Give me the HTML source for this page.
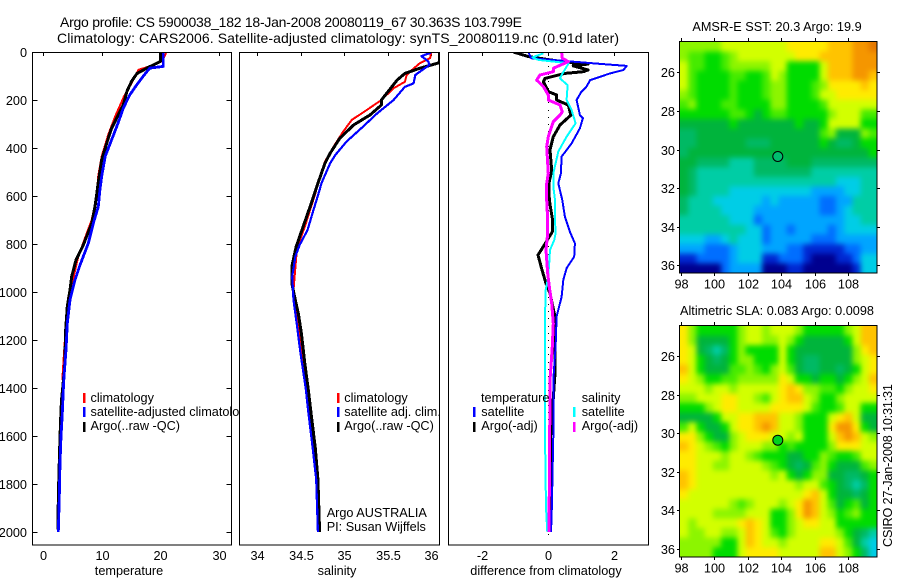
<!DOCTYPE html>
<html>
<head>
<meta charset="utf-8">
<title>Argo profile</title>
<style>
html,body{margin:0;padding:0;background:#fff;}
svg{display:block;}
text{font-family:"Liberation Sans",sans-serif;font-size:12.7px;fill:#000;}
.title{font-size:14px;}
</style>
</head>
<body>
<svg id="chart" xmlns="http://www.w3.org/2000/svg" width="900" height="580" viewBox="0 0 900 580">
<rect x="0" y="0" width="900" height="580" fill="#fff"/>
<defs>
<clipPath id="clip-t"><rect x="32" y="52" width="199.5" height="493"/></clipPath>
<clipPath id="clip-s"><rect x="239.5" y="52" width="200" height="493"/></clipPath>
<clipPath id="clip-d"><rect x="448.5" y="52" width="200" height="493"/></clipPath>
<clipPath id="clip-sst"><rect x="680" y="42" width="197" height="231"/></clipPath>
<clipPath id="clip-sla"><rect x="680" y="326" width="197" height="231"/></clipPath>
<filter id="map-soften" filterUnits="userSpaceOnUse" x="640" y="0" width="260" height="580" color-interpolation-filters="sRGB">
<feGaussianBlur stdDeviation="2.6"/>
</filter>
</defs>
<text class="title" x="60" y="27" textLength="462" lengthAdjust="spacing">Argo profile: CS 5900038_182 18-Jan-2008 20080119_67 30.363S 103.799E</text>
<text class="title" x="57" y="43" textLength="562" lengthAdjust="spacing">Climatology: CARS2006. Satellite-adjusted climatology: synTS_20080119.nc (0.91d later)</text>

<g id="panel-t"></g>
<g id="legend-t">
<rect x="83" y="393" width="2.5" height="10" fill="#f00"/>
<text x="90.5" y="402">climatology</text>
<rect x="83" y="407" width="2.5" height="10" fill="#00f"/>
<text x="90.5" y="416">satellite-adjusted climatology</text>
<rect x="83" y="422" width="2.5" height="10" fill="#000"/>
<text x="90.5" y="430">Argo(..raw -QC)</text>
</g>

<g id="panel-s"></g>
<g id="legend-s">
<rect x="337" y="393" width="2.5" height="10" fill="#f00"/>
<text x="344.3" y="402">climatology</text>
<rect x="337" y="407" width="2.5" height="10" fill="#00f"/>
<text x="344.3" y="416">satellite adj. clim.</text>
<rect x="337" y="422" width="2.5" height="10" fill="#000"/>
<text x="344.3" y="430">Argo(..raw -QC)</text>
<text x="326.7" y="517">Argo AUSTRALIA</text>
<text x="326.7" y="531">PI: Susan Wijffels</text>
</g>

<g id="panel-d"></g>
<g id="legend-d">
<text x="481" y="402">temperature</text>
<rect x="473" y="407" width="2.5" height="10" fill="#00f"/>
<text x="481.3" y="416">satellite</text>
<rect x="473" y="422" width="2.5" height="10" fill="#000"/>
<text x="481.3" y="430">Argo(-adj)</text>
<text x="581.7" y="402">salinity</text>
<rect x="573" y="407" width="2.5" height="10" fill="#0ff"/>
<text x="581.7" y="416">satellite</text>
<rect x="573" y="422" width="2.5" height="10" fill="#f0f"/>
<text x="581.7" y="430">Argo(-adj)</text>
</g>

<text x="129" y="575" text-anchor="middle">temperature</text>
<text x="337" y="575" text-anchor="middle">salinity</text>
<text x="546" y="575" text-anchor="middle">difference from climatology</text>

<text x="777" y="31" text-anchor="middle">AMSR-E SST: 20.3 Argo: 19.9</text>
<g id="map-sst"></g>
<text x="777" y="315" text-anchor="middle">Altimetric SLA: 0.083 Argo: 0.0098</text>
<g id="map-sla"></g>
<text transform="translate(892 547)rotate(-90)" textLength="163" lengthAdjust="spacing">CSIRO 27-Jan-2008 10:31:31</text>
</svg>

<script>
// ---------- profile data ----------
const depthTicks = [0,200,400,600,800,1000,1200,1400,1600,1800,2000];
const tempTicks = [0,10,20,30];
const salTicks = [34,34.5,35,35.5,36];
const salTickLabels = ['34','34.5','35','35.5','36'];
const diffTicks = [-2,0,2];

const tempClimDepth = [4,39,53,74,130,185,268,345,435,518,600,700,756,853,943,1019,1131,1255,1367];
const tempClimValue = [21,20.2,19.1,16.25,15.1,13.8,12.3,11.1,10,9.4,9.15,8.3,7.44,6,5.17,4.31,3.92,3.58,3.29];
const tempArgoDepth = [0,39,67,90,122,164,220,275,317,380,450,545,575,644,714,804,867,936,992,1061,1158,1311,1400,1450,1546,1650,1783,1937,1990];
const tempArgoValue = [20,20,17.7,16,15.1,14.3,13.7,12.55,11.7,10.85,10,9.4,9.25,8.86,8.3,6.87,5.62,4.89,4.6,4.14,3.87,3.7,3.35,3.15,2.98,2.85,2.7,2.55,2.55];
const tempSatDepth = [0,60,67,100,136,178,233,296,365,435,518,575,644,714,797,888,950,1033,1131,1242,1353,1408,1506,1604,1713,1854,2000];
const tempSatValue = [20.5,20.5,18.2,17.1,16,14.8,13.7,12.8,11.7,10.6,10,9.7,9.42,8.57,7.72,6.3,5.45,4.6,4.14,3.92,3.58,3.46,3.29,3.07,2.9,2.78,2.61];

const salClimDepth = [3,26,47,75,96,124,151,200,242,283,332,394,457,547,590,728,818,992,1040,1172,1270,1394,1500,1650,1780,2000];
const salClimValue = [36,35.99,35.87,35.78,35.72,35.7,35.57,35.43,35.26,35.09,34.99,34.88,34.78,34.7,34.67,34.55,34.46,34.42,34.44,34.49,34.53,34.57,34.6,34.65,34.69,34.71];
const salArgoDepth = [3,44,68,89,117,200,221,262,304,360,422,464,547,575,644,728,811,894,964,1033,1089,1172,1297,1408,1500,1650,1780,2000];
const salArgoValue = [36.1,36.1,35.87,35.7,35.61,35.43,35.43,35.3,35.11,34.95,34.84,34.78,34.7,34.675,34.61,34.53,34.45,34.4,34.4,34.44,34.475,34.51,34.55,34.59,34.62,34.67,34.7,34.72];
const salSatDepth = [3,17,40,54,96,131,145,200,256,311,373,429,464,547,575,658,742,804,853,936,1033,1131,1255,1400,1500,1650,1780,2000];
const salSatValue = [36,35.89,35.97,35.98,35.82,35.8,35.7,35.57,35.38,35.22,35.03,34.9,34.84,34.74,34.72,34.65,34.58,34.49,34.44,34.405,34.42,34.456,34.5,34.56,34.59,34.64,34.68,34.7];

const diffTempSatDepth = [0,26,36,50,58,75,89,117,144,165,200,263,276,318,381,436,506,547,617,686,749,797,853,901,950,1020,1103,1228,1367,1600,1921,2000];
const diffTempSatValue = [-0.59,-0.51,0.36,1.62,2.37,2.27,1.87,1.27,1.16,1.01,0.86,0.96,1.05,0.96,0.71,0.41,0.39,0.31,0.43,0.51,0.66,0.81,0.79,0.56,0.46,0.41,0.26,0.23,0.16,0.16,0.11,0.09];
const diffTempArgoDepth = [0,19,36,44,50,58,75,82,89,110,124,165,179,200,221,263,304,353,408,492,547,617,700,749,804,846,908,964,1006,1103,1339,1600,2000];
const diffTempArgoValue = [-1.04,-0.59,0.21,0.66,1.21,0.76,1.21,1.06,0.51,-0.09,-0.14,0.01,0.26,0.26,0.61,0.69,0.36,0.16,0.06,0.11,0.03,0.04,0.14,0.13,-0.11,-0.3,-0.18,-0.06,0.06,0.21,0.21,0.08,0.06];
const diffSalSatDepth = [6,22,33,42,47,96,110,138,200,242,297,353,415,506,561,617,700,756,783,825,894,950,992,1103,1367,1600,1900,2000];
const diffSalSatValue = [-0.14,-0.47,-0.29,0.3,0.62,0.41,0.36,0.59,0.56,0.71,0.83,0.56,0.31,0.16,0.16,0.21,0.21,0.23,0.19,0.06,0.03,-0.01,-0.07,-0.09,-0.09,-0.09,-0.06,-0.02];
const diffSalArgoDepth = [0,26,40,68,82,96,117,144,179,200,221,249,263,290,353,394,506,547,617,700,756,825,922,978,1047,1131,1228,1367,1600,2000];
const diffSalArgoValue = [0.41,0.43,0.61,0.16,0.16,-0.24,-0.34,-0.14,0.01,0.01,0.36,0.43,0.36,0.16,0.01,-0.04,0.01,-0.04,-0.04,-0.01,-0.01,-0.06,-0.01,0.04,0.11,0.16,0.13,0.06,0.05,0.03];
const zeroLineDepths = [60,90,120,150,180,210,240,270,300,330,360,390,420,450,480,510,540,570,600,630,660,690,720,750,780,810,840,870,900,930,960,990,1020,1050,1080,1110,1140,1170,1200,1230,1260,1290,1320,1350,1380,1410,1440,1470,1500,1530,1560,1590,1620,1650,1680,1710,1740,1770,1800,1830,1860,1890,1920,1950,1980,2010];

// ---------- map data (colour level in each grid cell, north to south) ----------
const mapLonTicks = [98,100,102,104,106,108];
const mapLatTicks = [26,28,30,32,34,36];
const argoLon = 103.799;
const argoLat = 30.363;
const sstCells = [
[10,10,10,10,10,11,11,11,11,11,11,11,11,12,12,12,12,12,13,13,13,14,14,15],
[10,9,9,8,8,9,10,11,11,11,11,11,11,11,12,12,12,13,13,13,13,14,14,14],
[11,9,9,8,8,9,10,10,10,10,10,11,11,8,8,8,8,11,13,13,13,14,14,14],
[11,9,8,8,8,8,9,9,8,8,9,11,10,8,8,8,8,11,13,13,13,14,14,13],
[11,9,8,8,8,8,9,8,8,8,9,10,10,8,8,8,9,10,12,12,12,12,13,12],
[10,9,8,8,8,8,9,8,8,8,9,10,10,8,8,8,9,11,11,12,12,12,12,12],
[9,10,8,8,8,9,9,8,8,8,8,10,10,8,8,8,8,9,11,11,11,11,11,11],
[8,8,8,8,8,8,9,9,8,7,8,9,9,8,8,8,8,8,10,11,11,11,9,9],
[7,7,7,7,7,7,8,7,7,7,7,7,7,7,8,7,7,8,11,11,11,11,8,8],
[6,6,7,7,7,7,7,7,7,7,7,7,7,7,7,7,7,9,10,7,7,7,10,9],
[6,6,7,7,7,7,7,7,6,6,6,7,7,7,7,7,7,8,7,6,6,7,8,8],
[6,7,7,7,7,7,7,7,7,7,7,7,7,7,7,7,7,7,7,7,7,7,7,8],
[7,7,6,6,6,6,5,5,5,6,6,6,6,7,7,7,6,6,6,6,6,6,6,6],
[7,6,5,5,5,5,5,5,5,6,6,6,6,6,6,6,5,5,5,5,5,5,5,5],
[7,6,5,5,5,5,5,5,5,5,5,5,5,5,5,5,5,5,5,4,4,4,5,5],
[7,6,5,5,5,5,4,4,4,4,4,4,4,4,4,4,3,3,3,3,4,4,5,5],
[6,5,5,5,4,4,4,4,4,4,3,4,3,3,3,3,3,2,2,3,3,5,5,5],
[6,5,5,5,5,4,4,4,4,3,3,3,3,3,3,3,3,2,2,3,4,5,5,5],
[5,5,5,5,5,5,4,4,4,2,3,3,3,3,3,3,3,3,3,3,4,4,5,5],
[5,5,5,5,5,5,5,5,4,4,2,3,3,2,3,3,3,3,2,3,4,4,4,4],
[4,4,4,3,3,4,5,4,4,4,2,3,3,3,3,3,2,2,2,3,3,3,3,3],
[3,3,3,2,2,2,3,4,4,4,3,3,3,2,2,1,1,1,1,1,2,2,3,3],
[1,1,2,2,2,2,3,4,4,4,1,1,2,2,2,1,0,0,0,1,1,2,4,4],
[0,0,0,0,0,2,3,3,3,3,0,0,0,1,1,0,0,0,0,0,0,1,4,4]
];
const slaCells = [
[12,10,8,8,8,8,8,10,11,11,10,11,11,11,10,8,8,8,8,8,10,11,13,13],
[12,10,7,7,7,7,8,10,11,11,10,10,11,10,8,7,7,7,7,7,8,11,13,13],
[12,11,7,6,5,6,8,10,8,8,8,8,11,8,7,7,7,7,7,7,7,10,12,13],
[12,11,8,7,6,7,8,10,10,8,8,8,11,8,7,6,6,7,7,7,7,10,11,12],
[13,11,8,7,7,7,9,9,10,9,8,10,11,9,7,6,6,7,7,6,7,8,11,12],
[12,11,10,8,8,9,9,10,10,10,10,10,12,11,8,8,7,8,8,7,8,10,11,13],
[11,11,11,10,11,11,10,11,11,11,11,11,12,13,12,10,10,9,9,8,10,11,11,12],
[10,10,11,11,11,12,12,11,11,10,9,11,12,13,13,11,10,8,8,10,11,11,11,11],
[8,8,8,10,11,12,12,11,11,11,11,12,12,12,12,11,9,8,8,9,11,11,8,8],
[7,7,7,7,8,11,11,12,12,13,13,13,11,11,10,8,8,8,11,12,13,11,7,7],
[9,11,8,7,7,8,11,12,12,13,14,13,11,11,10,8,8,8,12,14,14,12,8,7],
[12,12,10,8,7,7,10,11,12,12,12,11,11,10,11,8,8,8,11,13,14,13,11,10],
[13,12,11,10,9,8,10,11,11,11,10,10,8,9,8,8,8,8,10,12,12,12,11,11],
[12,12,11,11,11,10,11,11,10,9,8,8,8,7,7,8,8,10,9,8,8,9,11,11],
[12,12,11,11,10,10,11,11,11,11,10,9,8,7,6,7,9,10,8,7,7,7,9,10],
[13,12,11,11,11,11,11,11,11,11,11,10,11,8,7,8,10,10,7,7,6,6,7,8],
[13,12,11,11,11,11,11,11,11,11,11,11,11,11,10,11,11,9,8,7,6,5,6,8],
[12,11,11,11,11,11,11,11,11,11,11,11,11,11,11,12,13,11,8,7,7,6,7,8],
[11,11,11,11,11,11,10,9,10,11,11,11,10,11,12,14,13,11,9,7,8,9,7,8],
[11,11,11,11,10,10,10,10,11,11,11,8,8,10,12,14,13,11,10,8,9,10,8,8],
[11,10,11,11,11,11,11,12,13,12,11,8,8,10,11,12,12,11,11,8,8,8,8,8],
[11,10,10,11,11,10,10,11,13,12,11,9,8,10,11,11,11,11,11,10,8,7,6,5],
[10,10,10,10,10,8,8,11,13,12,11,11,10,11,11,11,11,12,12,11,9,7,5,4],
[10,10,10,10,8,8,8,11,12,12,12,12,11,11,11,11,11,13,13,11,10,8,6,4]
];
const colourLevels = ['#00008f','#0028d2','#006eff','#00a5ff','#00cde6','#00cda5','#00b964','#00b43c','#00dc00','#46eb00','#8cf500','#d2ff00','#ffeb00','#ffc300','#f59600','#e67800'];

// ---------- axis functions ----------
const frameTop = 52, frameBottom = 545;
function yDepth(d){ return 52 + 0.24 * d; }
function xTemp(v){ return 43 + 5.87 * v; }
function xSal(v){ return 257 + 87 * (v - 34); }
function xDiff(v){ return 548 + 33.2 * v; }
const sstFrame = {left:680, right:877, top:42, bottom:273, lat26:72.3, clip:'clip-sst'};
const slaFrame = {left:680, right:877, top:326, bottom:557, lat26:356, clip:'clip-sla'};
function mapX(lon){ return 681 + 16.7 * (lon - 98); }
function mapY(frame, lat){ return frame.lat26 + 19.3 * (lat - 26); }

const NS = 'http://www.w3.org/2000/svg';
function make(parent, tag, attrs){
  const el = document.createElementNS(NS, tag);
  for (const k in attrs) el.setAttribute(k, attrs[k]);
  parent.appendChild(el);
  return el;
}
function drawLine(parent, x1, y1, x2, y2){
  const el = make(parent, 'line', {x1:x1, y1:y1, x2:x2, y2:y2, stroke:'#000', 'stroke-width':1, 'shape-rendering':'crispEdges'});
  
  
  return el;
}
function drawLabel(parent, x, y, anchor, str){
  const el = make(parent, 'text', {x:x, y:y, 'text-anchor':anchor});
  el.textContent = str;
  
  
  return el;
}
function drawFrame(parent, x, y, w, h){
  const el = make(parent, 'rect', {x:x, y:y, width:w, height:h, fill:'none', stroke:'#000', 'stroke-width':1, 'shape-rendering':'crispEdges'});
  
  
  return el;
}
function drawSeries(parent, name, clipId, xFn, depths, values, colour, width){
  const pts = values.map(function(v, i){ return xFn(v).toFixed(1) + ',' + yDepth(depths[i]).toFixed(1); }).join(' ');
  const el = make(parent, 'polyline', {points:pts, fill:'none', stroke:colour, 'stroke-width':width, 'stroke-linejoin':'round', 'clip-path':'url(#' + clipId + ')', 'shape-rendering':'crispEdges'});
  
  
  return el;
}

function drawPanel(parent, left, right, xFn, xTickVals, xTickText, withDepth){
  const bg = make(parent, 'rect', {x:left, y:frameTop, width:right-left, height:frameBottom-frameTop, fill:'#fff'});
  
  
  xTickVals.forEach(function(t, i){
    const x = Math.round(xFn(t)) + 0.5;
    drawLine(parent, x, frameTop, x, frameTop + 4);
    drawLabel(parent, x, 560, 'middle', xTickText[i]);
  });
  if (withDepth){
    depthTicks.forEach(function(d){
      const y = Math.round(yDepth(d)) + 0.5;
      drawLine(parent, left, y, left + 5, y);
      drawLine(parent, right - 5, y, right, y);
      drawLabel(parent, 27, y + 4.5, 'end', String(d));
    });
  }
}

// temperature panel
const pT = document.getElementById('panel-t');
drawPanel(pT, 32.5, 231.5, xTemp, tempTicks, tempTicks.map(String), true);
drawSeries(pT, 'temperature-climatology-line', 'clip-t', xTemp, tempClimDepth, tempClimValue, '#f00', 2);
drawSeries(pT, 'temperature-argo-line', 'clip-t', xTemp, tempArgoDepth, tempArgoValue, '#000', 3);
drawSeries(pT, 'temperature-satellite-line', 'clip-t', xTemp, tempSatDepth, tempSatValue, '#00f', 2.8);
drawFrame(pT, 32.5, 52.5, 199, 492.5);

// salinity panel
const pS = document.getElementById('panel-s');
drawPanel(pS, 239.5, 439.5, xSal, salTicks, salTickLabels, false);
drawSeries(pS, 'salinity-climatology-line', 'clip-s', xSal, salClimDepth, salClimValue, '#f00', 2);
drawSeries(pS, 'salinity-argo-line', 'clip-s', xSal, salArgoDepth, salArgoValue, '#000', 3);
drawSeries(pS, 'salinity-satellite-line', 'clip-s', xSal, salSatDepth, salSatValue, '#00f', 2.2);
drawFrame(pS, 239.5, 52.5, 200, 492.5);

// difference panel
const pD = document.getElementById('panel-d');
drawPanel(pD, 448.5, 648.5, xDiff, diffTicks, diffTicks.map(function(t){ return t < 0 ? '-' + Math.abs(t) : String(t); }), false);
zeroLineDepths.forEach(function(d){
  const dot = make(pD, 'rect', {x:Math.round(xDiff(0)), y:Math.round(yDepth(d)), width:1, height:1, fill:'#000'});
  
  
});
drawSeries(pD, 'difference-temp-argo-line', 'clip-d', xDiff, diffTempArgoDepth, diffTempArgoValue, '#000', 3);
drawSeries(pD, 'difference-temp-satellite-line', 'clip-d', xDiff, diffTempSatDepth, diffTempSatValue, '#00f', 2);
drawSeries(pD, 'difference-sal-satellite-line', 'clip-d', xDiff, diffSalSatDepth, diffSalSatValue, '#0ff', 2);
drawSeries(pD, 'difference-sal-argo-line', 'clip-d', xDiff, diffSalArgoDepth, diffSalArgoValue, '#f0f', 3);
drawFrame(pD, 448.5, 52.5, 200, 492.5);

// maps
function drawMap(group, frame, cells, markerFill){
  const rows = cells.length, cols = cells[0].length;
  const w = (frame.right - frame.left) / cols, h = (frame.bottom - frame.top) / rows;
  const clipper = make(group, 'g', {'clip-path':'url(#' + frame.clip + ')'});
  
  
  const soft = make(clipper, 'g', {filter:'url(#map-soften)'});
  
  
  const bleed = 12;
  cells.forEach(function(row, r){
    row.forEach(function(level, c){
      const x0 = frame.left + c * w - (c === 0 ? bleed : 0);
      const y0 = frame.top + r * h - (r === 0 ? bleed : 0);
      const x1 = frame.left + (c + 1) * w + (c === cols - 1 ? bleed : 0.5);
      const y1 = frame.top + (r + 1) * h + (r === rows - 1 ? bleed : 0.5);
      const cell = make(soft, 'rect', {x:x0.toFixed(2), y:y0.toFixed(2), width:(x1 - x0).toFixed(2), height:(y1 - y0).toFixed(2), fill:colourLevels[level]});
      
      
    });
  });
  drawFrame(group, frame.left - 0.5, frame.top - 0.5, frame.right - frame.left + 0.5, frame.bottom - frame.top + 0.5);
  mapLonTicks.forEach(function(t){
    const x = Math.round(mapX(t)) + 0.5;
    drawLine(group, x, frame.top - 4, x, frame.top);
    drawLine(group, x, frame.bottom, x, frame.bottom + 3);
    drawLabel(group, x, frame.bottom + 15.5, 'middle', String(t));
  });
  mapLatTicks.forEach(function(t){
    const y = Math.round(mapY(frame, t)) + 0.5;
    drawLine(group, frame.left - 3, y, frame.left, y);
    drawLine(group, frame.right, y, frame.right + 3, y);
    drawLabel(group, frame.left - 5, y + 4.5, 'end', String(t));
  });
  const marker = make(group, 'circle', {cx:mapX(argoLon).toFixed(1), cy:mapY(frame, argoLat).toFixed(1), r:5, fill:markerFill, stroke:'#000', 'stroke-width':1});
  
  
}
drawMap(document.getElementById('map-sst'), sstFrame, sstCells, '#00be6e');
drawMap(document.getElementById('map-sla'), slaFrame, slaCells, '#00d21e');
</script>
</body>
</html>
